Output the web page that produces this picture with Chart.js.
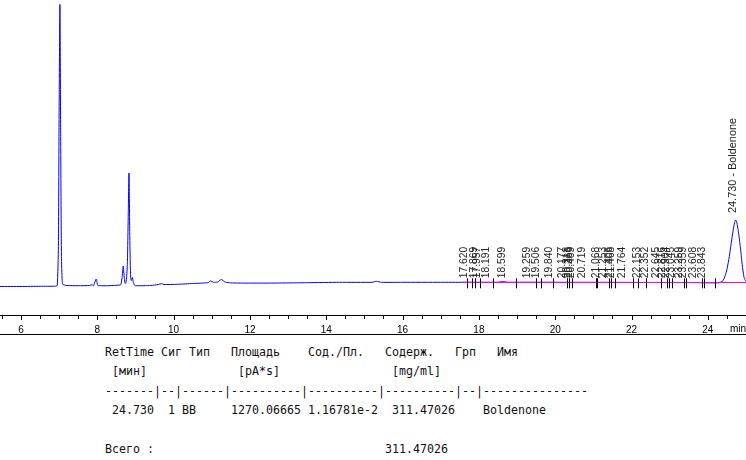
<!DOCTYPE html>
<html>
<head>
<meta charset="utf-8">
<script src="https://cdn.jsdelivr.net/npm/chart.js@4.4.1/dist/chart.umd.min.js"></script>
<style>
  body { margin: 0; background: #fff; width: 746px; height: 460px; overflow: hidden; position: relative; }
  #wrap { position: absolute; left: 0; top: 0; width: 746px; height: 336px; }
  #report {
    position: absolute; left: 105px; top: 343px; margin: 0;
    font-family: "DejaVu Sans Mono", monospace; font-size: 11.63px; line-height: 19.4px; color: #111;
  }
</style>
</head>
<body>
<div id="wrap"><canvas id="chromChart"></canvas></div>
<pre id="report"></pre>
<script>
// signal trace (time in min, signal above baseline)
const traceTime = [5.45, 6.0, 6.5, 6.9, 6.95, 6.98, 7.0, 7.02, 7.04, 7.06, 7.08, 7.1, 7.2, 7.5,
  7.8, 7.86, 7.9, 7.97, 8.01, 8.05, 8.3, 8.6, 8.62, 8.65, 8.68, 8.71, 8.73, 8.75, 8.77, 8.79, 8.81,
  8.83, 8.85, 8.87, 8.89, 8.92, 8.94, 8.97, 9.0, 9.4, 9.6, 9.68, 9.75, 10.1, 10.5, 10.9, 10.97,
  11.05, 11.15, 11.25, 11.35, 11.5, 12.0, 12.5, 13.0, 13.5, 14.35, 15.2, 15.31, 15.45, 16.0, 17.0,
  17.6, 18.5, 18.62, 18.75, 19.5, 20.5, 21.5, 22.5, 23.5, 24.2, 24.3, 24.4, 24.48, 24.55, 24.6,
  24.65, 24.7, 24.73, 24.76, 24.8, 24.85, 24.9, 24.95, 25.0];
const traceSignal = [0, 0, 0.2, 0.3, 1, 40, 180, 282, 150, 30, 6, 2, 1, 0.8,
  1, 1.8, 0.8, 7.5, 1.2, 0.8, 0.8, 1.5, 2, 9, 20.5, 8, 3, 4, 10, 25, 70,
  113.5, 55, 12, 6, 9, 5, 1.5, 0.8, 1, 2, 2.8, 2, 2.2, 3, 3.8, 5.5,
  4.2, 4.5, 7, 4.5, 3.6, 3.4, 3.4, 3.6, 3.8, 4.2, 4.2, 5.2, 4.2, 4.2, 4.2,
  4.2, 4.2, 5, 4.2, 4.2, 4.1, 4.1, 4.0, 4.0, 3.6, 3.8, 6, 14, 27, 40,
  53, 64, 66.5, 64, 55, 40, 22, 9, 5];

// integration baseline (magenta)
const baselineTime = [17.57, 25.0];
const baselineSignal = [4.2, 4.0];

// retention time labels of the small integrated peaks
const peakRT = ["17.620", "17.869", "17.957", "18.191", "18.599", "19.259", "19.506", "19.840",
  "20.177", "20.318", "20.366", "20.409", "20.719", "21.068", "21.253", "21.406", "21.468",
  "21.764", "22.153", "22.352", "22.645", "22.816", "22.904", "23.045", "23.259", "23.359",
  "23.608", "23.843"];

// peak start / stop markers
const markerRT = [17.68, 17.81, 17.91, 18.04, 18.36, 18.98, 19.5, 19.64, 19.93, 20.32, 20.37,
  20.45, 21.08, 21.1, 21.42, 21.47, 21.58, 22.05, 22.18, 22.39, 22.78, 22.94, 22.99, 23.07,
  23.38, 23.43, 23.85, 23.91, 24.2];

// named peak
const namedRT = [24.73];
const namedLabel = ["24.730 - Boldenone"];

const majorTicks = [6, 8, 10, 12, 14, 16, 18, 20, 22, 24];

const reportLines = [
  "RetTime Сиг Тип   Площадь    Сод./Пл.   Содерж.   Грп   Имя",
  " [мин]             [pA*s]                [mg/ml]",
  "-------|--|------|----------|----------|----------|--|---------------",
  " 24.730  1 BB     1270.06665 1.16781e-2  311.47026    Boldenone",
  "",
  "Всего :                                 311.47026"
];
document.getElementById("report").textContent = reportLines.join("\n");

const tracePoints = traceTime.map((t, i) => ({ x: t, y: traceSignal[i] }));
const basePoints = baselineTime.map((t, i) => ({ x: t, y: baselineSignal[i] }));

const annotate = {
  id: "annotate",
  afterDatasetsDraw(chart) {
    const { ctx, scales: { x, y }, chartArea } = chart;
    ctx.save();
    // markers
    ctx.strokeStyle = "#000";
    ctx.lineWidth = 1;
    markerRT.forEach(t => {
      const px = Math.round(x.getPixelForValue(t)) + 0.5;
      const py = y.getPixelForValue(4.2);
      ctx.beginPath();
      ctx.moveTo(px, py - 4);
      ctx.lineTo(px, py + 6);
      ctx.stroke();
    });
    // retention time labels
    ctx.fillStyle = "#222";
    ctx.font = "10.3px 'Liberation Sans', Arial, sans-serif";
    ctx.textAlign = "left";
    ctx.textBaseline = "middle";
    peakRT.forEach(lbl => {
      const px = x.getPixelForValue(parseFloat(lbl));
      const py = y.getPixelForValue(4.2) - 4;
      ctx.save();
      ctx.translate(px, py);
      ctx.rotate(-Math.PI / 2);
      ctx.fillText(lbl, 0, 0);
      ctx.restore();
    });
    ctx.font = "10.9px 'Liberation Sans', Arial, sans-serif";
    namedRT.forEach((t, i) => {
      let top = 0;
      traceTime.forEach((tt, j) => { if (Math.abs(tt - t) < 0.05) top = Math.max(top, traceSignal[j]); });
      const px = x.getPixelForValue(t) - 3;
      const py = y.getPixelForValue(top) - 7;
      ctx.save();
      ctx.translate(px, py);
      ctx.rotate(-Math.PI / 2);
      ctx.fillText(namedLabel[i], 0, 0);
      ctx.restore();
    });
    // axis box and ticks
    const top = chartArea.bottom;
    ctx.strokeStyle = "#000";
    ctx.beginPath();
    ctx.moveTo(0, top + 0.5);
    ctx.lineTo(chart.width, top + 0.5);
    ctx.moveTo(0, x.bottom - 1.5);
    ctx.lineTo(chart.width, x.bottom - 1.5);
    x.ticks.forEach(tk => {
      const px = Math.round(x.getPixelForValue(tk.value)) + 0.5;
      const len = majorTicks.includes(tk.value) ? 5 : 4;
      ctx.moveTo(px, top);
      ctx.lineTo(px, top + len);
    });
    ctx.stroke();
    ctx.fillStyle = "#000";
    ctx.font = "10px 'Liberation Sans', Arial, sans-serif";
    ctx.textAlign = "left";
    ctx.fillText("min", 730, top + 14);
    ctx.restore();
  }
};

const chromCtx = document.getElementById("chromChart").getContext("2d");
const chromChart = new Chart(chromCtx, {
  type: "line",
  data: {
    datasets: [
      {
        label: "Signal",
        data: tracePoints,
        borderColor: "#0000ff",
        borderWidth: 1,
        pointRadius: 0,
        tension: 0.2,
        order: 2
      },
      {
        label: "Baseline",
        data: basePoints,
        borderColor: "#ff00ff",
        borderWidth: 1.2,
        pointRadius: 0,
        order: 1
      }
    ]
  },
  options: {
    responsive: true,
    maintainAspectRatio: false,
    animation: false,
    layout: { padding: 0 },
    plugins: { legend: { display: false }, tooltip: { enabled: false } },
    scales: {
      x: {
        type: "linear",
        min: 5.45,
        max: 25,
        grid: { display: false, drawTicks: false },
        border: { display: false },
        ticks: {
          stepSize: 0.5,
          includeBounds: false,
          autoSkip: false,
          maxRotation: 0,
          padding: 9,
          color: "#000",
          font: { family: "'Liberation Sans', Arial, sans-serif", size: 10 },
          callback: v => (majorTicks.includes(v) ? String(v) : "")
        },
        afterFit: scale => {
          scale.height = 21;
          scale.paddingLeft = 0;
          scale.paddingRight = 0;
        }
      },
      y: {
        display: false,
        min: -28.5,
        max: 286.5
      }
    }
  },
  plugins: [annotate]
});
</script>
</body>
</html>
